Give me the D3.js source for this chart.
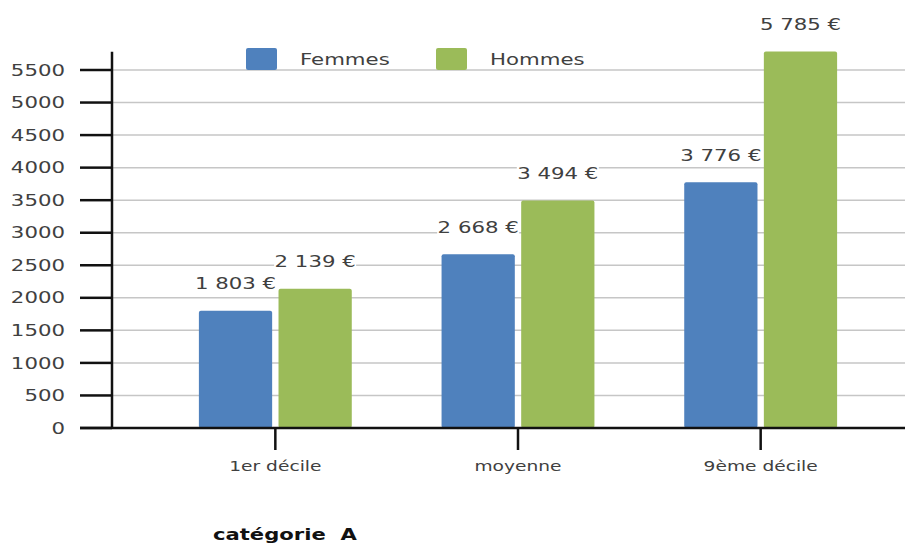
<!DOCTYPE html>
<html>
<head>
<meta charset="utf-8">
<script src="https://cdn.jsdelivr.net/npm/d3@7"></script>
<style>
  body { margin: 0; background: #fff; }
  text { font-family: "DejaVu Sans", sans-serif; fill: #404040; }
</style>
</head>
<body>
<div id="chart"></div>
<script>
var categories = ["1er décile", "moyenne", "9ème décile"];
var series = ["Femmes", "Hommes"];
var femmes = [1803, 2668, 3776];
var hommes = [2139, 3494, 5785];
var yTicks = [0, 500, 1000, 1500, 2000, 2500, 3000, 3500, 4000, 4500, 5000, 5500];
var colors = ["#4f81bd", "#9bbb59"];
var title = "catégorie\u00a0\u00a0A";

function init() {
    var w = 910;
    var h = 545;
    var stretch = 1.33; // text in the picture is wider than normal

    var svg = d3.select("#chart")
        .append("svg")
        .attr("width", w)
        .attr("height", h);

    var yScale = d3.scaleLinear()
        .domain([0, 5500])
        .range([428, 70]);

    var xScale = d3.scaleBand()
        .domain(categories)
        .range([154, 882])
        .paddingInner(0.37)
        .paddingOuter(0.185);

    var inner = d3.scaleBand()
        .domain(series)
        .range([0, xScale.bandwidth()])
        .paddingInner(0.08);

    var left = 80, axisX = 112, right = 905;

    // gridlines
    svg.selectAll("line.grid")
        .data(yTicks.slice(1))
        .enter()
        .append("line")
        .attr("x1", axisX)
        .attr("x2", right)
        .attr("y1", function(d) { return yScale(d); })
        .attr("y2", function(d) { return yScale(d); })
        .style("stroke", "#c6c6c6")
        .style("stroke-width", 1.5);

    // y ticks + labels
    var yg = svg.append("g");
    yg.selectAll("line")
        .data(yTicks)
        .enter()
        .append("line")
        .attr("x1", left)
        .attr("x2", axisX)
        .attr("y1", function(d) { return yScale(d); })
        .attr("y2", function(d) { return yScale(d); })
        .style("stroke", "#111")
        .style("stroke-width", 2.5);
    yg.selectAll("text")
        .data(yTicks)
        .enter()
        .append("text")
        .attr("text-anchor", "end")
        .attr("dy", "0.35em")
        .attr("transform", function(d) {
            return "translate(65," + yScale(d) + ") scale(" + stretch + ",1)";
        })
        .style("font-size", "16px")
        .text(function(d) { return d; });

    // bars
    var groups = svg.selectAll("g.grp")
        .data(categories.map(function(c, i) { return { cat: c, vals: [femmes[i], hommes[i]] }; }))
        .enter()
        .append("g")
        .attr("transform", function(d) { return "translate(" + xScale(d.cat) + ",0)"; });

    groups.selectAll("rect")
        .data(function(d) { return d.vals; })
        .enter()
        .append("rect")
        .attr("x", function(d, i) { return inner(series[i]); })
        .attr("y", function(d) { return yScale(d); })
        .attr("width", inner.bandwidth())
        .attr("height", function(d) { return yScale(0) - yScale(d); })
        .attr("rx", 2)
        .style("fill", function(d, i) { return colors[i]; });

    // value labels with white box
    var fmt = function(v) { return d3.format(",")(v).replace(",", " ") + " €"; };
    var labels = groups.selectAll("g.lab")
        .data(function(d) { return d.vals; })
        .enter()
        .append("g")
        .attr("transform", function(d, i) {
            return "translate(" + (inner(series[i]) + inner.bandwidth() / 2) + "," + (yScale(d) - 27) + ")";
        });
    labels.append("rect")
        .attr("x", -41)
        .attr("y", -11)
        .attr("width", 82)
        .attr("height", 22)
        .style("fill", "#fff");
    labels.append("text")
        .attr("text-anchor", "middle")
        .attr("dy", "0.35em")
        .attr("transform", "scale(" + stretch + ",1)")
        .style("font-size", "16px")
        .text(fmt);

    // axes lines
    svg.append("line")
        .attr("x1", axisX).attr("x2", axisX)
        .attr("y1", yScale(0)).attr("y2", yScale(5780))
        .style("stroke", "#111").style("stroke-width", 2.5);
    svg.append("line")
        .attr("x1", left).attr("x2", right)
        .attr("y1", yScale(0)).attr("y2", yScale(0))
        .style("stroke", "#111").style("stroke-width", 2.5);

    // category ticks + labels
    var xg = svg.selectAll("g.xt")
        .data(categories)
        .enter()
        .append("g")
        .attr("transform", function(d) { return "translate(" + (xScale(d) + xScale.bandwidth() / 2) + "," + yScale(0) + ")"; });
    xg.append("line")
        .attr("y1", 0).attr("y2", 22)
        .style("stroke", "#111").style("stroke-width", 2.5);
    xg.append("text")
        .attr("text-anchor", "middle")
        .attr("transform", "translate(0,43) scale(" + stretch + ",1)")
        .style("font-size", "14px")
        .text(function(d) { return d; });

    // legend
    var leg = svg.selectAll("g.leg")
        .data(series)
        .enter()
        .append("g")
        .attr("transform", function(d, i) { return "translate(" + (246 + i * 190) + ",48)"; });
    leg.append("rect")
        .attr("width", 31).attr("height", 22).attr("rx", 2)
        .style("fill", function(d, i) { return colors[i]; });
    leg.append("text")
        .attr("transform", "translate(54,11) scale(" + stretch + ",1)")
        .attr("dy", "0.35em")
        .style("font-size", "16px")
        .text(function(d) { return d; });

    // title
    svg.append("text")
        .attr("transform", "translate(213,540) scale(1.32,1)")
        .style("font-size", "16px")
        .style("font-weight", "bold")
        .style("fill", "#111")
        .text(title);
}

window.onload = init;
</script>
</body>
</html>
